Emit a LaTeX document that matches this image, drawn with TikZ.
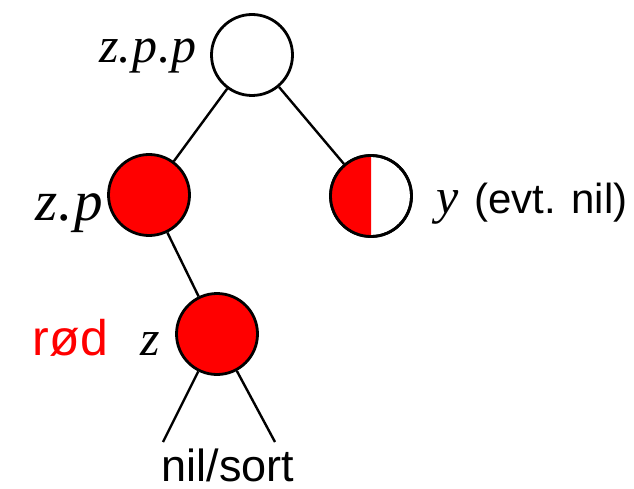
\documentclass[tikz,border=0pt]{standalone}
\usepackage{fontspec}
\setmainfont{Liberation Serif}
\setsansfont{Liberation Sans}
\begin{document}
\begin{tikzpicture}[x=1pt,y=-1pt,
  nd/.style={circle,draw=black,line width=2.8pt,minimum size=81pt,inner sep=0pt},
  conn/.style={line width=2.4pt},
  var/.style={font=\fontsize{50}{50}\selectfont\itshape,inner sep=0pt},
  lbl/.style={font=\fontsize{42}{42}\selectfont\sffamily,inner sep=0pt}]
\useasboundingbox (0,0) rectangle (634,489);
\node[nd,fill=white] (g) at (252,55) {};
\node[nd,fill=red] (p) at (149,195) {};
\node[nd,fill=white] (y) at (371,196) {};
\begin{scope}
\clip (320,140) rectangle (y.center |- 0,250);
\fill[red] (y.center) circle[radius=40.5pt];
\end{scope}
\node[nd] at (y.center) {};
\node[nd,fill=red] (z) at (217,334) {};
\coordinate (l1) at (163,442);
\coordinate (l2) at (275,442);
\draw[conn] (g) -- (p);
\draw[conn] (g) -- (y);
\draw[conn] (p) -- (z);
\draw[conn] (z) -- (l1);
\draw[conn] (z) -- (l2);
\node[var,anchor=base east] (tg) at (197,63) {z.\kern1pt p\kern1pt.\kern1pt p};
\node[var,anchor=base east,font=\fontsize{57}{57}\selectfont\itshape] (tp) at (103,220) {z.\kern2pt p};
\node[var,anchor=base west] (ty) at (436,214) {y};
\node[lbl,anchor=base west] (ty2) at (474,214) {(evt. nil)};
\node[var,anchor=base east] (tz) at (160,355) {z};
\node[lbl,anchor=base east,text=red,font=\fontsize{50}{50}\selectfont\sffamily] (tr) at (108,355) {rød};
\node[lbl,anchor=base,font=\fontsize{45}{45}\selectfont\sffamily] (ts) at (228,481) {nil/sort};
\end{tikzpicture}
\end{document}
